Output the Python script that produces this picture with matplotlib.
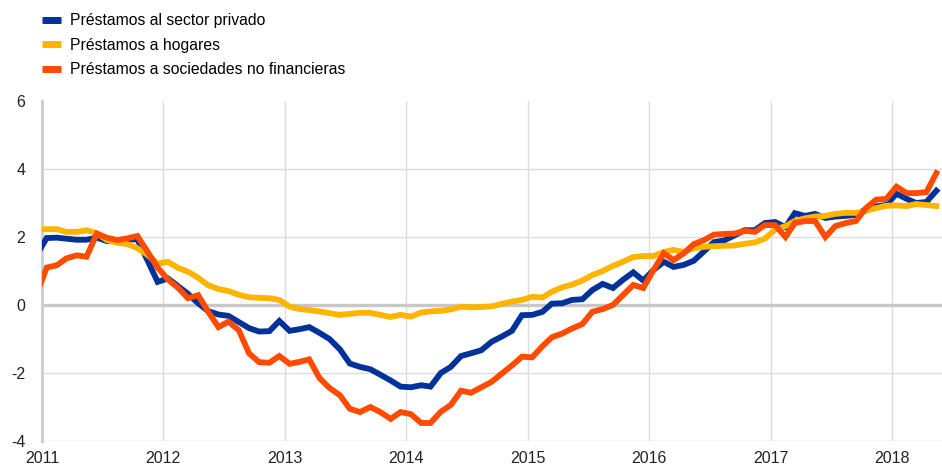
import matplotlib
matplotlib.use("Agg")
import matplotlib.pyplot as plt
import numpy as np
import pandas as pd
from matplotlib.lines import Line2D

plt.rcParams['font.family'] = ['Liberation Sans', 'DejaVu Sans']

# Monthly observations, Dec 2010 .. May 2018 (annual growth, %)
start_month = '2010-12-01'
n_months = 90

privado = [1.45, 1.97, 1.98, 1.95, 1.92, 1.92, 1.98, 1.88, 1.90, 1.93,
           1.93, 1.30, 0.68, 0.78, 0.55, 0.33, 0.05, -0.18, -0.28, -0.32,
           -0.50, -0.68, -0.78, -0.77, -0.47, -0.76, -0.71, -0.65, -0.82, -1.00,
           -1.30, -1.72, -1.82, -1.89, -2.05, -2.22, -2.40, -2.42, -2.36, -2.40,
           -2.00, -1.82, -1.50, -1.42, -1.33, -1.08, -0.93, -0.76, -0.30, -0.29,
           -0.20, 0.04, 0.05, 0.15, 0.17, 0.44, 0.62, 0.50, 0.74, 0.96,
           0.72, 1.03, 1.27, 1.12, 1.18, 1.30, 1.58, 1.85, 1.90, 2.05,
           2.20, 2.20, 2.41, 2.44, 2.29, 2.70, 2.62, 2.68, 2.56, 2.60,
           2.62, 2.65, 2.82, 2.90, 2.94, 3.27, 3.12, 3.00, 3.03, 3.36]

hogares = [2.23, 2.23, 2.23, 2.15, 2.15, 2.20, 2.11, 1.91, 1.83, 1.79,
           1.67, 1.47, 1.22, 1.27, 1.09, 0.98, 0.80, 0.58, 0.47, 0.41,
           0.30, 0.23, 0.21, 0.20, 0.15, -0.05, -0.12, -0.15, -0.19, -0.24,
           -0.29, -0.26, -0.23, -0.23, -0.29, -0.35, -0.29, -0.34, -0.22, -0.19,
           -0.17, -0.13, -0.05, -0.07, -0.06, -0.04, 0.03, 0.10, 0.15, 0.24,
           0.22, 0.39, 0.52, 0.60, 0.72, 0.88, 1.00, 1.15, 1.27, 1.41,
           1.44, 1.44, 1.56, 1.62, 1.56, 1.67, 1.71, 1.73, 1.74, 1.75,
           1.80, 1.84, 1.95, 2.22, 2.32, 2.47, 2.55, 2.60, 2.62, 2.68,
           2.71, 2.71, 2.77, 2.85, 2.92, 2.93, 2.91, 2.97, 2.94, 2.91]

sociedades = [0.30, 1.10, 1.17, 1.37, 1.46, 1.42, 2.10, 1.98, 1.91, 1.96,
              2.03, 1.56, 1.10, 0.75, 0.50, 0.20, 0.29, -0.20, -0.65, -0.49,
              -0.74, -1.42, -1.68, -1.70, -1.50, -1.73, -1.67, -1.60, -2.15, -2.44,
              -2.65, -3.05, -3.15, -3.00, -3.15, -3.35, -3.15, -3.21, -3.47, -3.47,
              -3.14, -2.94, -2.52, -2.58, -2.42, -2.26, -2.02, -1.78, -1.52, -1.54,
              -1.21, -0.95, -0.84, -0.69, -0.56, -0.20, -0.12, 0.00, 0.29, 0.59,
              0.50, 1.03, 1.52, 1.32, 1.52, 1.79, 1.91, 2.07, 2.09, 2.10,
              2.18, 2.15, 2.35, 2.35, 2.00, 2.41, 2.47, 2.47, 2.00, 2.32,
              2.41, 2.47, 2.85, 3.10, 3.12, 3.48, 3.29, 3.29, 3.32, 3.88]

labels = ['Préstamos al sector privado', 'Préstamos a hogares',
          'Préstamos a sociedades no financieras']
colors = ['#003299', '#FFB400', '#FF4B00']
year_ticks = [2011, 2012, 2013, 2014, 2015, 2016, 2017, 2018]
y_ticks = [-4, -2, 0, 2, 4, 6]

dates = pd.date_range(start_month, periods=n_months, freq='MS') + pd.Timedelta(days=14)

fig = plt.figure(figsize=(9.42, 4.66), dpi=100)
ax = fig.add_axes([42 / 942, 25 / 466, 900 / 942, 340 / 466])

for series, col in zip([privado, hogares, sociedades], colors):
    ax.plot(dates, series, color=col, lw=4.2, solid_joinstyle='miter',
            solid_capstyle='projecting', zorder=3)

ax.set_xlim(pd.Timestamp('2011-01-01'), pd.Timestamp('2018-06-01'))
ax.set_ylim(-4, 6)

grid_c = '#dcdcdc'
for yv in y_ticks:
    if yv == 0:
        ax.axhline(0, color='#c8c8c8', lw=2.4, zorder=2)
    elif yv != 6:
        ax.axhline(yv, color=grid_c, lw=1.0, zorder=1)
for yr in year_ticks[1:]:
    ax.axvline(pd.Timestamp(f'{yr}-01-01'), color=grid_c, lw=1.0, zorder=1)

for s in ['top', 'right', 'bottom']:
    ax.spines[s].set_visible(False)
ax.spines['left'].set_color('#d0d0d0')
ax.spines['left'].set_linewidth(2.2)

ax.set_xticks([pd.Timestamp(f'{y}-01-01') for y in year_ticks])
ax.set_xticklabels([str(y) for y in year_ticks])
ax.set_yticks(y_ticks)
ax.set_yticklabels([str(v) for v in y_ticks])
ax.tick_params(axis='both', length=0, labelsize=11.5, colors='#222222')
ax.tick_params(axis='y', pad=12)
ax.tick_params(axis='x', pad=7)

handles = [Line2D([0], [0], color=c, lw=5, solid_capstyle='butt') for c in colors]
fig.legend(handles, labels, loc='upper left', bbox_to_anchor=(42 / 942, 1 - 13 / 466),
           frameon=False, fontsize=11.3, handlelength=1.2, handletextpad=0.6,
           labelspacing=0.62, borderaxespad=0, borderpad=0)

fig.savefig('out.png', dpi=100)
